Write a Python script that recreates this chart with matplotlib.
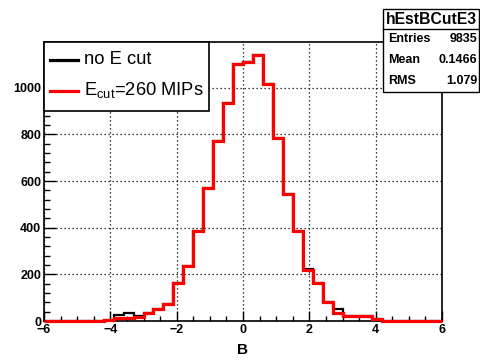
import matplotlib
matplotlib.use("Agg")
import matplotlib.pyplot as plt
from matplotlib.lines import Line2D
from matplotlib.patches import Rectangle
from matplotlib.ticker import MultipleLocator
import numpy as np

plt.rcParams['font.family'] = ['Liberation Sans', 'DejaVu Sans']
plt.rcParams['mathtext.fontset'] = 'custom'
plt.rcParams['mathtext.rm'] = 'Liberation Sans'
plt.rcParams['mathtext.it'] = 'Liberation Sans'

# 40 bins of width 0.3 over [-6, 6]
bin_lo, bin_hi, n_bins = -6.0, 6.0, 40

# counts without energy cut (black)
counts_nocut = [0, 0, 0, 0, 0, 0, 3, 25, 35, 22,
                35, 52, 75, 162, 234, 384, 572, 770, 936, 1102,
                1112, 1139, 1016, 784, 543, 384, 223, 165, 80, 50,
                20, 20, 20, 8, 1, 0, 0, 0, 0, 0]
# counts with E_cut = 260 MIPs (red)
counts_cut = [0, 0, 0, 0, 0, 0, 3, 11, 15, 18,
              35, 52, 75, 162, 234, 384, 572, 770, 936, 1102,
              1112, 1139, 1016, 784, 543, 384, 217, 162, 80, 35,
              20, 20, 20, 8, 1, 0, 0, 0, 0, 0]

legend_labels = ["no E cut", r"E$_{\rm cut}$=260 MIPs"]
hist_name = "hEstBCutE3"
stat_names = ["Entries", "Mean", "RMS"]
stat_values = ["9835", "0.1466", "1.079"]
x_title = "B"

W, H = 481, 361
fig = plt.figure(figsize=(W / 100, H / 100), dpi=100)


def fx(x):
    return x / W


def fy(y):
    return 1 - y / H


ax = fig.add_axes([fx(44), fy(321), fx(442) - fx(44), fy(42) - fy(321)])
edges = np.linspace(bin_lo, bin_hi, n_bins + 1)

ax.stairs(counts_nocut, edges, color='black', lw=1.6, zorder=4, clip_on=False)
ax.stairs(counts_cut, edges, color='#ff0000', lw=2.3, zorder=5, clip_on=False)

ax.set_xlim(bin_lo, bin_hi)
ax.set_ylim(0, 1.05 * max(counts_nocut + counts_cut))

ax.xaxis.set_major_locator(MultipleLocator(2))
ax.xaxis.set_minor_locator(MultipleLocator(0.5))
ax.yaxis.set_major_locator(MultipleLocator(200))
ax.yaxis.set_minor_locator(MultipleLocator(40))

ax.tick_params(axis='x', which='major', direction='in', length=7.2, width=1.0, pad=2)
ax.tick_params(axis='x', which='minor', direction='in', length=3.6, width=1.0)
ax.tick_params(axis='y', which='major', direction='in', length=8.6, width=1.0, pad=2)
ax.tick_params(axis='y', which='minor', direction='in', length=4.3, width=1.0)
for lab in ax.get_xticklabels() + ax.get_yticklabels():
    lab.set_fontsize(9)
    lab.set_fontweight('bold')

ax.grid(True, which='major', color='black', lw=0.9, ls=(0, (1, 2.2)), zorder=1)
ax.set_axisbelow(True)
for s in ax.spines.values():
    s.set_linewidth(1.2)
    s.set_zorder(3)

fig.text(fx(243), fy(350), x_title, ha='center', va='center',
         fontsize=11, fontweight='bold')

# legend box
fig.add_artist(Rectangle((fx(44), fy(111)), fx(208.7) - fx(44), fy(41.7) - fy(111),
                         transform=fig.transFigure, facecolor='white',
                         edgecolor='black', lw=1.2, zorder=10))
legend_y = [59.5, 90.5]
legend_colors = ['black', '#ff0000']
for yy, c, lbl in zip(legend_y, legend_colors, legend_labels):
    fig.add_artist(Line2D([fx(50), fx(78)], [fy(yy), fy(yy)], color=c, lw=2.3,
                          transform=fig.transFigure, zorder=11))
    fig.text(fx(84), fy(yy), lbl, ha='left', va='center', fontsize=13.2, zorder=12)

# statistics box
fig.add_artist(Rectangle((fx(383), fy(91.7)), fx(479.5) - fx(383), fy(9.3) - fy(91.7),
                         transform=fig.transFigure, facecolor='white',
                         edgecolor='black', lw=1.0, zorder=10))
fig.add_artist(Line2D([fx(383), fx(479.5)], [fy(29.3), fy(29.3)], color='black', lw=1.0,
                      transform=fig.transFigure, zorder=11))
fig.text(fx(431), fy(19.5), hist_name, ha='center', va='center', fontsize=11.3,
         fontweight='bold', zorder=12)
for yy, name, val in zip([39.5, 60, 80.5], stat_names, stat_values):
    fig.text(fx(388), fy(yy), name, ha='left', va='center', fontsize=9, fontweight='bold', zorder=12)
    fig.text(fx(477.5), fy(yy), val, ha='right', va='center', fontsize=9, fontweight='bold', zorder=12)

fig.savefig('out.png', dpi=100)
